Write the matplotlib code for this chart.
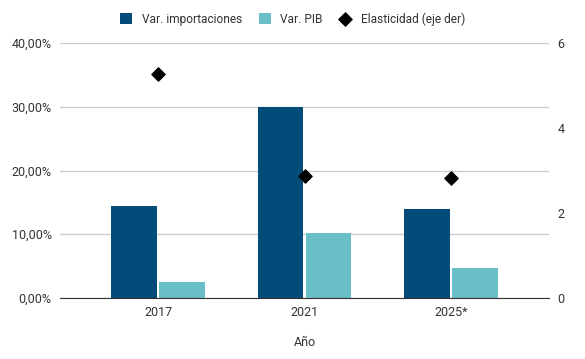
import numpy as np
import matplotlib.pyplot as plt
from matplotlib.ticker import FuncFormatter

plt.rcParams['font.family'] = ['Roboto', 'DejaVu Sans']

# datos
anios = ['2017', '2021', '2025*']
var_importaciones = [14.4, 29.9, 13.9]
var_pib = [2.5, 10.2, 4.7]
elasticidad = [5.28, 2.87, 2.82]

c_imp = '#034b78'
c_pib = '#6abec7'
txt = '#333333'

fig = plt.figure(figsize=(5.85, 3.59), dpi=100)
ax = fig.add_axes([0.1026, 0.170, 0.836, 0.710])
ax2 = ax.twinx()

x = np.arange(len(anios))
w = 0.312
gap = 0.008
ax.bar(x - w / 2 - gap, var_importaciones, w, color=c_imp, label='Var. importaciones', zorder=3)
ax.bar(x + w / 2 + gap, var_pib, w, color=c_pib, label='Var. PIB', zorder=3)
ax2.scatter(x, elasticidad, marker='D', s=45, color='black', label='Elasticidad (eje der)', zorder=4)

ax.set_xlim(-0.67, 2.67)
ax.set_ylim(0, 40)
ax2.set_ylim(0, 6)
ax.set_yticks([0, 10, 20, 30, 40])
ax2.set_yticks([0, 2, 4, 6])
ax.yaxis.set_major_formatter(FuncFormatter(lambda v, p: f'{v:.2f}%'.replace('.', ',')))
ax.set_xticks(x)
ax.set_xticklabels(anios)
ax.set_xlabel('Año', color=txt, fontsize=9, labelpad=12)

ax.grid(axis='y', color='#cccccc', linewidth=1, zorder=0)
for a in (ax, ax2):
    for s in a.spines.values():
        s.set_visible(False)
    a.tick_params(length=0, labelsize=9, colors=txt, pad=6)
ax.spines['bottom'].set_visible(True)
ax.spines['bottom'].set_color('#333333')
ax.spines['bottom'].set_zorder(5)

h1, l1 = ax.get_legend_handles_labels()
h2, l2 = ax2.get_legend_handles_labels()
fig.legend(h1 + h2, l1 + l2, loc='center', bbox_to_anchor=(0.5, 0.947), ncol=3,
           frameon=False, fontsize=8.6, labelcolor=txt, handlelength=1.0, handleheight=1.0,
           handletextpad=0.8, columnspacing=1.4)

fig.savefig('out.png', dpi=100)
